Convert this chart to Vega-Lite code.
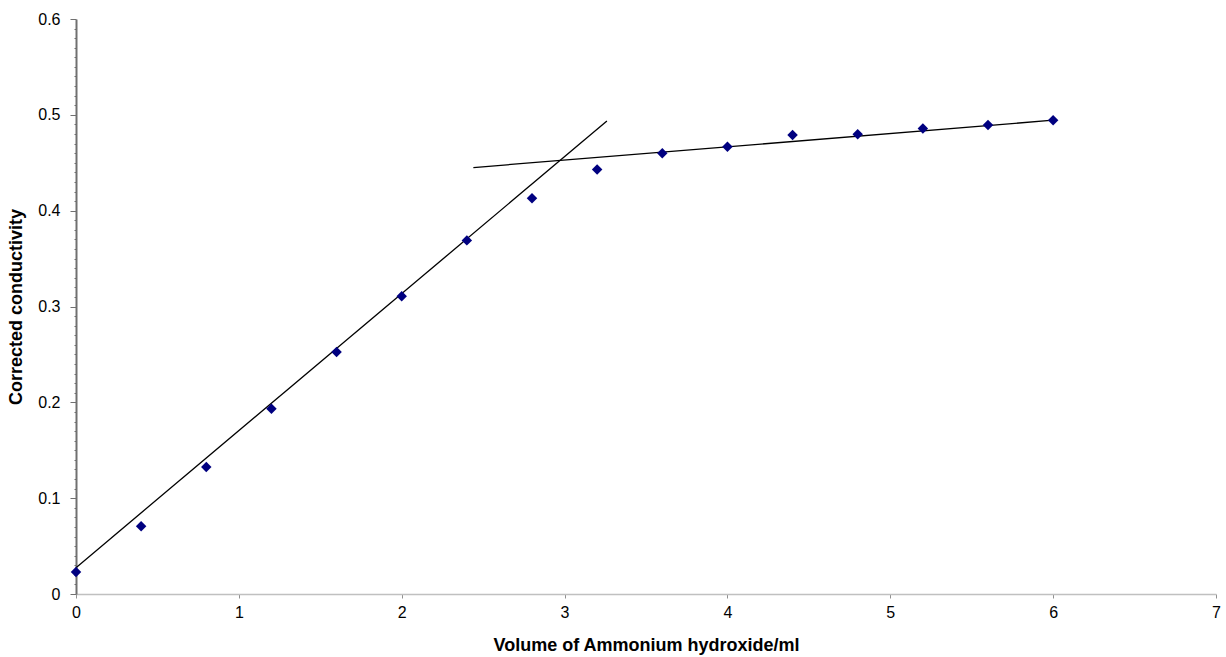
{
  "$schema": "https://vega.github.io/schema/vega-lite/v6.json",
  "width": 1140,
  "height": 575,
  "autosize": {"type": "none"},
  "padding": {"left": 76, "top": 19, "right": 10, "bottom": 63},
  "background": "white",
  "config": {"view": {"stroke": null}, "font": "Liberation Sans"},
  "datasets": {
    "points": [
      {"x": 0.0, "y": 0.023},
      {"x": 0.4, "y": 0.0706},
      {"x": 0.8, "y": 0.1326},
      {"x": 1.2, "y": 0.1934},
      {"x": 1.6, "y": 0.2526},
      {"x": 2.0, "y": 0.3106},
      {"x": 2.4, "y": 0.369},
      {"x": 2.8, "y": 0.413},
      {"x": 3.2, "y": 0.443},
      {"x": 3.6, "y": 0.460},
      {"x": 4.0, "y": 0.4666},
      {"x": 4.4, "y": 0.479},
      {"x": 4.8, "y": 0.4798},
      {"x": 5.2, "y": 0.4857},
      {"x": 5.6, "y": 0.4895},
      {"x": 6.0, "y": 0.4944}
    ],
    "lines": [
      {"line": "a", "x": 0.0, "y": 0.0275},
      {"line": "a", "x": 3.26, "y": 0.4936},
      {"line": "b", "x": 2.44, "y": 0.445},
      {"line": "b", "x": 6.0, "y": 0.4944}
    ]
  },
  "encoding": {
    "x": {
      "field": "x", "type": "quantitative",
      "scale": {"domain": [0, 7], "nice": false, "zero": true},
      "axis": {
        "title": "Volume of Ammonium hydroxide/ml",
        "values": [0, 1, 2, 3, 4, 5, 6, 7],
        "format": "d",
        "labelFlush": false,
        "grid": false,
        "domainColor": "#c0c0c0",
        "domainWidth": 1.5,
        "tickColor": "#909090",
        "tickSize": 4,
        "tickWidth": 1,
        "labelFont": "Liberation Sans",
        "labelFontSize": 16,
        "labelColor": "black",
        "labelPadding": 6,
        "titleFont": "Liberation Sans",
        "titleFontSize": 18,
        "titleFontWeight": "bold",
        "titleColor": "black",
        "titleBaseline": "middle",
        "titleY": 51
      }
    },
    "y": {
      "field": "y", "type": "quantitative",
      "scale": {"domain": [0, 0.6], "nice": false},
      "axis": {
        "title": "Corrected conductivity",
        "values": [0, 0.01, 0.02, 0.03, 0.04, 0.05, 0.06, 0.07, 0.08, 0.09, 0.1, 0.11, 0.12, 0.13, 0.14, 0.15, 0.16, 0.17, 0.18, 0.19, 0.2, 0.21, 0.22, 0.23, 0.24, 0.25, 0.26, 0.27, 0.28, 0.29, 0.3, 0.31, 0.32, 0.33, 0.34, 0.35, 0.36, 0.37, 0.38, 0.39, 0.4, 0.41, 0.42, 0.43, 0.44, 0.45, 0.46, 0.47, 0.48, 0.49, 0.5, 0.51, 0.52, 0.53, 0.54, 0.55, 0.56, 0.57, 0.58, 0.59, 0.6],
        "labelExpr": "round(datum.value*100) % 10 == 0 ? format(round(datum.value*10)/10, '.1~f') : ''",
        "labelOverlap": false,
        "labelFlush": false,
        "grid": false,
        "domainColor": "#707070",
        "domainWidth": 2,
        "tickColor": "#707070",
        "tickSize": {"condition": {"test": "round(datum.value*100) % 10 == 0", "value": 6}, "value": 2},
        "tickWidth": 1,
        "labelFont": "Liberation Sans",
        "labelFontSize": 16,
        "labelColor": "black",
        "labelPadding": 10,
        "titleFont": "Liberation Sans",
        "titleFontSize": 18,
        "titleFontWeight": "bold",
        "titleColor": "black",
        "titleX": -60,
        "titleBaseline": "middle"
      }
    }
  },
  "layer": [
    {
      "data": {"name": "lines"},
      "mark": {"type": "line", "color": "black", "strokeWidth": 1.3},
      "encoding": {
        "detail": {"field": "line"}
      }
    },
    {
      "data": {"name": "points"},
      "mark": {"type": "point", "shape": "diamond", "filled": true, "color": "#000080", "opacity": 1, "size": 110},
      "encoding": {}
    }
  ]
}
